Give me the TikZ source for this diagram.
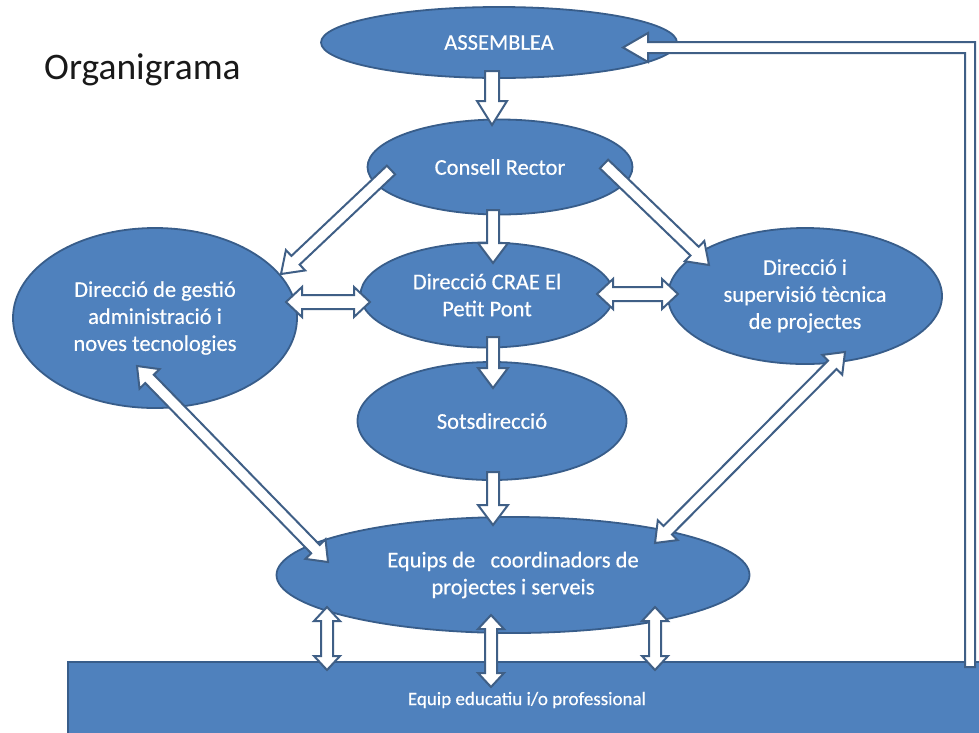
\documentclass[tikz,border=0pt]{standalone}
\usepackage{fontspec}
\setmainfont{Carlito}
\newfontfamily\orgfont[FakeBold=0.4]{Carlito}
\usetikzlibrary{shapes.geometric,calc}
\definecolor{boxfill}{HTML}{4F81BD}
\definecolor{boxline}{HTML}{385D8A}
\definecolor{arrline}{HTML}{3F5F86}
\tikzset{
  org/.style={ellipse, draw=boxline, line width=1.8pt, fill=boxfill, text=white,
    inner sep=0pt, align=center, font=\orgfont\fontsize{22.5}{27}\selectfont},
  barrow/.style={draw=arrline, fill=white, line width=2pt, line join=miter},
}
% single block arrow: start, end, half shaft, half head, head length
\newcommand{\sarrow}[5]{%
  \path[barrow] let \p1=($(#2)-(#1)$), \n1={veclen(\x1,\y1)}, \n2={atan2(\y1,\x1)} in
  ([shift={(#1)},rotate=\n2]0,-#3) -- ([shift={(#1)},rotate=\n2]\n1-#5,-#3)
  -- ([shift={(#1)},rotate=\n2]\n1-#5,-#4) -- ([shift={(#1)},rotate=\n2]\n1,0)
  -- ([shift={(#1)},rotate=\n2]\n1-#5,#4) -- ([shift={(#1)},rotate=\n2]\n1-#5,#3)
  -- ([shift={(#1)},rotate=\n2]0,#3) -- cycle;}
% double block arrow
\newcommand{\darrow}[5]{%
  \path[barrow] let \p1=($(#2)-(#1)$), \n1={veclen(\x1,\y1)}, \n2={atan2(\y1,\x1)} in
  ([shift={(#1)},rotate=\n2]0,0) -- ([shift={(#1)},rotate=\n2]#5,-#4)
  -- ([shift={(#1)},rotate=\n2]#5,-#3) -- ([shift={(#1)},rotate=\n2]\n1-#5,-#3)
  -- ([shift={(#1)},rotate=\n2]\n1-#5,-#4) -- ([shift={(#1)},rotate=\n2]\n1,0)
  -- ([shift={(#1)},rotate=\n2]\n1-#5,#4) -- ([shift={(#1)},rotate=\n2]\n1-#5,#3)
  -- ([shift={(#1)},rotate=\n2]#5,#3) -- ([shift={(#1)},rotate=\n2]#5,#4) -- cycle;}
\begin{document}
\begin{tikzpicture}[x=1pt,y=-1pt]
\path[use as bounding box, clip] (0,0) rectangle (979,732);
\fill[white] (0,0) rectangle (979,732);

% title
\node[anchor=base west, inner sep=0pt, font=\fontsize{37.5}{40}\selectfont, text=black!90] (title) at (44,79) {Organigrama};

% bottom bar
\node[draw=boxline, line width=1.8pt, fill=boxfill, minimum width=922pt, minimum height=84pt,
  inner sep=0pt] (team) at (529,704) {};
\node[text=white, font=\orgfont\fontsize{19}{21}\selectfont, inner sep=0pt] (teamtxt) at (527,700) {Equip educatiu i/o professional};

% ellipses
\node[org, minimum width=356pt, minimum height=71pt] (ass) at (499,42.5) {ASSEMBLEA};
\node[org, minimum width=265pt, minimum height=95pt] (cons) at (500,167) {Consell Rector};
\node[org, minimum width=253pt, minimum height=105pt] (crae) at (487,295) {Direcció CRAE El\\Petit Pont};
\node[org, minimum width=269pt, minimum height=118pt] (sots) at (492,421) {Sotsdirecció};
\node[org, minimum width=473pt, minimum height=116pt] (equips) at (513,575) {Equips de~~ coordinadors de\\projectes i serveis};
\node[org, minimum width=284pt, minimum height=180pt] (gest) at (155,318) {Direcció de gestió\\administració i\\noves tecnologies};
\node[org, minimum width=274pt, minimum height=136pt] (sup) at (805,296) {Direcció i\\supervisió tècnica\\de projectes};

% arrow end points
\coordinate (a1s) at (492,71);  \coordinate (a1e) at (492,125);
\coordinate (a2s) at (493,210); \coordinate (a2e) at (493,263);
\coordinate (a3s) at (493,337); \coordinate (a3e) at (493,388);
\coordinate (a4s) at (493,472); \coordinate (a4e) at (493,525);
\coordinate (d1s) at (391,170); \coordinate (d1e) at (281,274);
\coordinate (d2s) at (604,164); \coordinate (d2e) at (709,265);
\coordinate (h1s) at (286,302); \coordinate (h1e) at (370,302);
\coordinate (h2s) at (597,294); \coordinate (h2e) at (678,294);
\coordinate (g1s) at (137,366); \coordinate (g1e) at (328,562);
\coordinate (g2s) at (845,352); \coordinate (g2e) at (655,543);
\coordinate (b1s) at (327,607); \coordinate (b1e) at (327,670);
\coordinate (b2s) at (491,615); \coordinate (b2e) at (491,687);
\coordinate (b3s) at (655,607); \coordinate (b3e) at (655,670);

\sarrow{a1s}{a1e}{7}{15}{24}
\sarrow{a2s}{a2e}{6}{15}{20}
\sarrow{a3s}{a3e}{6}{15}{20}
\sarrow{a4s}{a4e}{6}{15}{20}
\sarrow{d1s}{d1e}{6}{14}{20}
\sarrow{d2s}{d2e}{6}{14}{20}
\darrow{h1s}{h1e}{7}{15}{16}
\darrow{h2s}{h2e}{7}{15}{16}
\darrow{g1s}{g1e}{6}{14}{18}
\darrow{g2s}{g2e}{6}{14}{18}
\darrow{b1s}{b1e}{6}{13}{14}
\darrow{b2s}{b2e}{6}{13}{14}
\darrow{b3s}{b3e}{6}{13}{14}

% feedback arrow from the team bar back to the assembly
\coordinate (fbt) at (623,47.5);
\coordinate (fbs) at (970,667);
\draw[barrow] ($(fbs)+(-5,0)$) -- ($(fbs|-fbt)+(-5,5.5)$) -- ($(fbt)+(25,5.5)$)
  -- ($(fbt)+(25,14.5)$) -- (fbt) -- ($(fbt)+(25,-14.5)$) -- ($(fbt)+(25,-5.5)$)
  -- ($(fbs|-fbt)+(5,-5.5)$) -- ($(fbs)+(5,0)$) -- cycle;
\end{tikzpicture}
\end{document}
